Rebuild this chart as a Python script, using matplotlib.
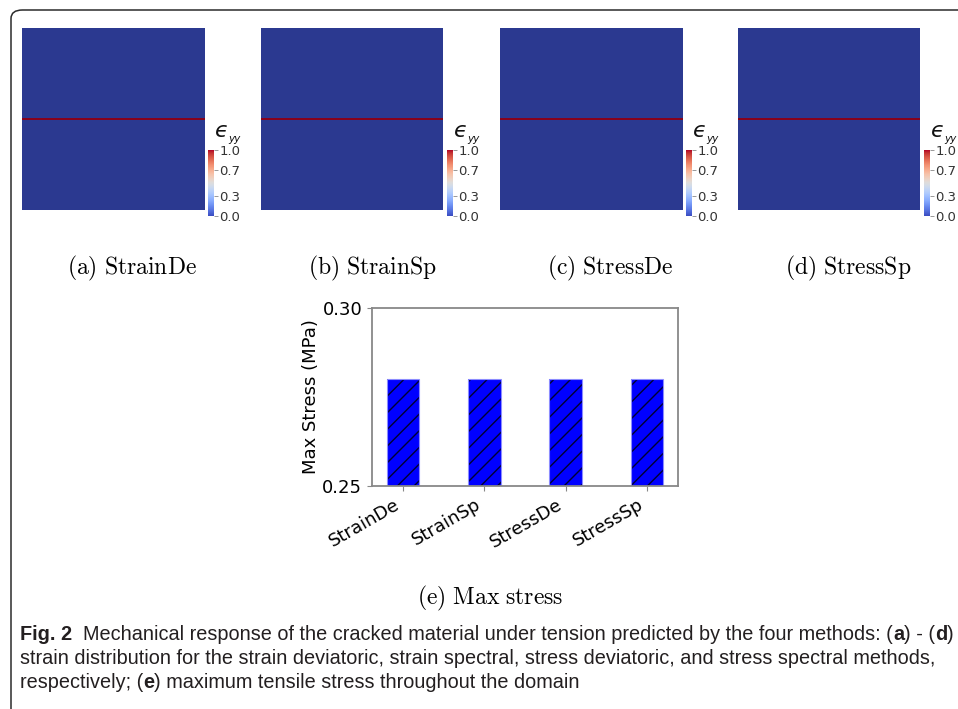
import numpy as np
import matplotlib
matplotlib.use("Agg")
import matplotlib.pyplot as plt
from matplotlib.colors import ListedColormap, Normalize
from matplotlib.patches import FancyBboxPatch

# ---- data ----
methods = ["StrainDe", "StrainSp", "StressDe", "StressSp"]
panel_letters = ["a", "b", "c", "d"]
max_stress = [0.28, 0.28, 0.28, 0.28]
stress_ticks = [0.25, 0.30]
strain_ticks = [0.0, 0.3, 0.7, 1.0]
grid_n = 91            # rows/cols of the strain field
crack_row = 45         # row index of the crack band
crack_strain = 1.0
bulk_strain = 0.0

W, H = 958, 709
fig = plt.figure(figsize=(W / 100, H / 100), dpi=100)

def fx(px):
    return px / W

def fy(py):
    return 1 - py / H

# rounded outer frame (clipped at right/bottom)
frame = FancyBboxPatch((fx(11), fy(760)), fx(1000), (760 - 10) / H,
                       boxstyle="round,pad=0,rounding_size=0.012",
                       transform=fig.transFigure, fill=False,
                       edgecolor="#2b2b2b", linewidth=1.1, zorder=0)
fig.patches.append(frame)

# strain fields: shaded version of the cool-warm map for the rendered surface
base = plt.get_cmap("coolwarm")
shade = base(np.linspace(0, 1, 256))
shade[:, :3] *= 0.75
field_cmap = ListedColormap(shade)
norm = Normalize(0.0, 1.0)

panel_lefts = [22, 261, 500, 738]
caption_x = [132, 372, 610, 848]
renderer = fig.canvas.get_renderer()

for i, (name, letter) in enumerate(zip(methods, panel_letters)):
    field = np.full((grid_n, grid_n), bulk_strain)
    field[crack_row, :] = crack_strain
    left = panel_lefts[i]
    ax = fig.add_axes([fx(left), fy(210), fx(182), 182 / H])
    ax.imshow(field, cmap=field_cmap, norm=norm, interpolation="nearest",
              aspect="auto")
    ax.set_axis_off()

    cax = fig.add_axes([fx(left + 186), fy(216), fx(6), 66 / H])
    cb = fig.colorbar(plt.cm.ScalarMappable(norm=norm, cmap=base), cax=cax)
    cb.outline.set_visible(False)
    cb.set_ticks(strain_ticks)
    cb.ax.tick_params(labelsize=9.5, length=3, width=0.6, color="#888888",
                      labelcolor="#333333", pad=1)
    cb.ax.set_yticklabels([f"{t:.1f}" for t in strain_ticks])
    # colorbar title: epsilon followed by a small "yy" subscript
    eps = fig.text(fx(left + 192), fy(131), "\u03f5", fontsize=16,
                   style="italic", ha="left", va="center", color="#111111")
    eps_right = eps.get_window_extent(renderer).x1
    fig.text(eps_right / W + 0.0005, fy(139), "yy", fontsize=7.5,
             style="italic", ha="left", va="center", color="#111111")

    fig.text(fx(caption_x[i]), fy(268),
             r"$\mathrm{(" + letter + r")\ " + name + r"}$",
             fontsize=17, ha="center", va="center", math_fontfamily="cm")

# max stress bar chart
bax = fig.add_axes([fx(372), fy(486), fx(306), (486 - 308) / H])
x = np.arange(len(methods))
bax.bar(x, max_stress, width=0.4, color="#0000ff", hatch="//",
        edgecolor="#000033", linewidth=0)
bax.bar(x, max_stress, width=0.4, fill=False, edgecolor="#8c8cff",
        linewidth=0.8)
bax.set_ylim(stress_ticks[0], stress_ticks[-1])
bax.set_xlim(-0.38, len(methods) - 1 + 0.38)
bax.set_yticks(stress_ticks)
bax.set_yticklabels([f"{t:.2f}" for t in stress_ticks])
bax.set_xticks(x)
bax.set_xticklabels(methods, rotation=30, ha="right")
bax.tick_params(labelsize=13, color="#888888", length=3.5)
bax.set_ylabel("Max Stress (MPa)", fontsize=13, labelpad=2)
for s in bax.spines.values():
    s.set_color("#888888")
    s.set_linewidth(1.3)

fig.text(fx(490), fy(598), r"$\mathrm{(e)\ Max\ stress}$", fontsize=17,
         ha="center", va="center", math_fontfamily="cm")

# figure caption, laid out piece by piece
cap_family = ["Liberation Sans"]
cap_color = "#231f20"
lines = [
    [("Fig. 2", "bold"), ("  Mechanical response of the cracked material under tension predicted by the four methods: (", "normal"),
     ("a", "bold"), (") - (", "normal"), ("d", "bold"), (")", "normal")],
    [("strain distribution for the strain deviatoric, strain spectral, stress deviatoric, and stress spectral methods,", "normal")],
    [("respectively; (", "normal"), ("e", "bold"), (") maximum tensile stress throughout the domain", "normal")],
]
line_y = [635, 659, 683]


def place_line(pieces, py, size):
    xpos = fx(20)
    made = []
    for txt, wt in pieces:
        t = fig.text(xpos, fy(py), txt, fontsize=size, fontweight=wt,
                     family=cap_family, color=cap_color, ha="left",
                     va="center")
        made.append(t)
        xpos = t.get_window_extent(renderer).x1 / W
    return made, xpos * W


# size the caption so the first line runs to the right margin
trial, right = place_line(lines[0], line_y[0], 12)
for t in trial:
    t.remove()
cap_size = 12 * (952 - 20) / (right - 20)

for pieces, py in zip(lines, line_y):
    place_line(pieces, py, cap_size)

fig.savefig("out.png", dpi=100)
